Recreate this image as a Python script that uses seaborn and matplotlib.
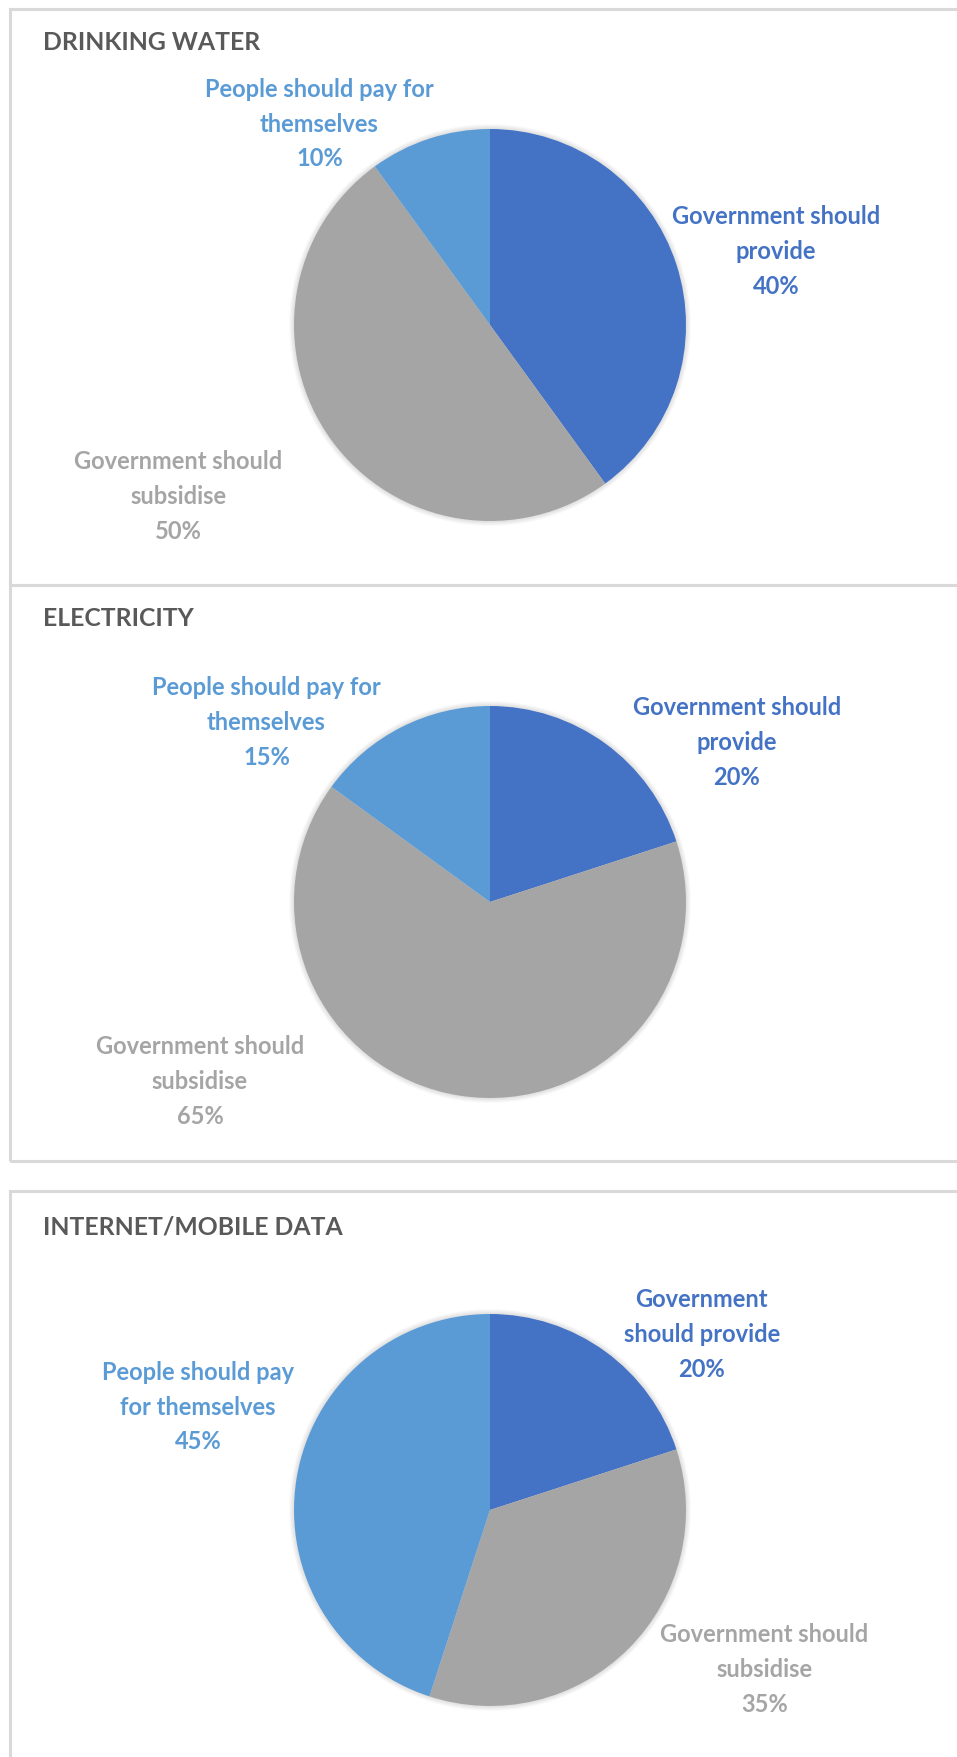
import matplotlib
matplotlib.use("Agg")
import matplotlib.pyplot as plt
import seaborn as sns
from matplotlib.patches import Rectangle, Circle

sns.set_theme(style="white")
plt.rcParams['font.family'] = ['Lato', 'DejaVu Sans']

# ---- data -------------------------------------------------------------
panel_titles = ["DRINKING WATER", "ELECTRICITY", "INTERNET/MOBILE DATA"]
categories = ["Government should provide",
              "Government should subsidise",
              "People should pay for themselves"]
drinking_water = [40, 50, 10]
electricity = [20, 65, 15]
internet_data = [20, 35, 45]
panel_values = [drinking_water, electricity, internet_data]

# wrapped label text per panel (same category order as above)
drinking_labels = ["Government should\nprovide",
                   "Government should\nsubsidise",
                   "People should pay for\nthemselves"]
electricity_labels = ["Government should\nprovide",
                      "Government should\nsubsidise",
                      "People should pay for\nthemselves"]
internet_labels = ["Government\nshould provide",
                   "Government should\nsubsidise",
                   "People should pay\nfor themselves"]
panel_labels = [drinking_labels, electricity_labels, internet_labels]

# ---- style / layout -----------------------------------------------------
palette = ["#4472C4", "#A5A5A5", "#5B9BD5"]
title_color = "#595959"
border_color = "#D9D9D9"

W, H, DPI = 957, 1758, 100
fig = plt.figure(figsize=(W / DPI, H / DPI), dpi=DPI)
fig.patch.set_facecolor("white")

R = 196            # pie radius in pixels
CX = 490           # pie centre x in pixels
pie_centres_y = [326, 903, 1511]
title_y = [42, 619, 1227]
# label anchor offsets in units of the pie radius
label_offsets = [
    [(1.46, 0.38), (-1.59, -0.87), (-0.87, 1.03)],
    [(1.26, 0.82), (-1.48, -0.91), (-1.14, 0.92)],
    [(1.08, 0.90), (1.40, -0.81), (-1.49, 0.53)],
]
# panel frames: (top, bottom) in pixels from the top of the image
frames = [(9.5, 585.5), (585.5, 1161.5), (1191.5, 1770)]


def fig_xy(px, py):
    return px / W, 1 - py / H


# panel frames
for top, bottom in frames:
    x0, y0 = fig_xy(9.5, bottom)
    fig.add_artist(Rectangle((x0, y0), (970 - 9.5) / W, (bottom - top) / H,
                             transform=fig.transFigure, fill=False,
                             edgecolor=border_color, linewidth=2.2, zorder=0))

S = 1.05
for i in range(3):
    # panel title
    tx, ty = fig_xy(43, title_y[i])
    fig.text(tx, ty, panel_titles[i], ha="left", va="center",
             fontsize=17.8, fontweight="bold", color=title_color)

    # square axes centred on the pie
    side = 2 * R * S
    ax_l, ax_b = fig_xy(CX - R * S, pie_centres_y[i] + R * S)
    ax = fig.add_axes([ax_l, ax_b, side / W, side / H])

    # soft shadow around the pie
    for k in range(5):
        ax.add_patch(Circle((0, 0), 1 + 0.005 * (k + 1), color="black",
                            alpha=0.025, linewidth=0, zorder=0))

    ax.pie(panel_values[i], colors=palette, startangle=90,
           counterclock=False, radius=1,
           wedgeprops=dict(linewidth=0, zorder=2))
    ax.set_xlim(-S, S)
    ax.set_ylim(-S, S)
    ax.set_aspect("equal")
    ax.axis("off")

    for j, (dx, dy) in enumerate(label_offsets[i]):
        ax.text(dx, dy, f"{panel_labels[i][j]}\n{panel_values[i][j]}%",
                ha="center", va="center", multialignment="center",
                fontsize=17, fontweight="bold", color=palette[j],
                linespacing=1.62, clip_on=False)

fig.savefig("out.png", dpi=DPI, facecolor="white")
